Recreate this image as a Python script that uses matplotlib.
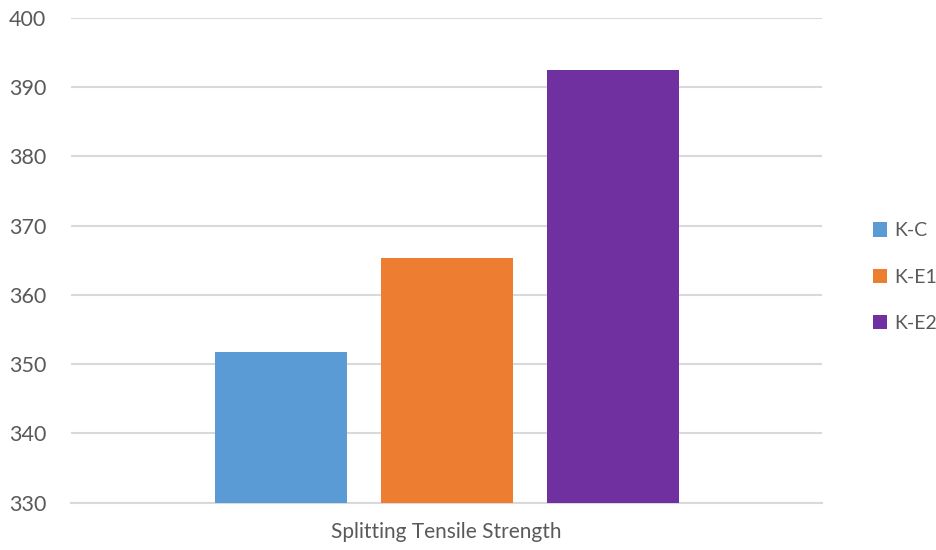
import matplotlib.pyplot as plt
from matplotlib.patches import Patch

category = "Splitting Tensile Strength"
series = ["K-C", "K-E1", "K-E2"]
values = [351.7, 365.4, 392.5]
colors = ["#5B9BD5", "#ED7D31", "#7030A0"]
yticks = [330, 340, 350, 360, 370, 380, 390, 400]

plt.rcParams['font.family'] = ['Lato', 'DejaVu Sans']

W, H = 936, 550
fig = plt.figure(figsize=(W / 100, H / 100), dpi=100)
ax = fig.add_axes([71 / W, 1 - 502.7 / H, (822 - 71) / W, (502.7 - 18) / H])

bar_w = 132
step = 166
for i, (name, v, c) in enumerate(zip(series, values, colors)):
    ax.bar((i - 1) * step, v - yticks[0], bottom=yticks[0], width=bar_w,
           color=c, zorder=3, label=name)

ax.set_xlim(-375.5, 375.5)
ax.set_ylim(yticks[0], yticks[-1])
ax.set_yticks(yticks)
ax.set_yticklabels([str(t) for t in yticks])
ax.yaxis.grid(True, color="#D9D9D9", linewidth=1.5, zorder=0)
ax.set_axisbelow(True)
ax.tick_params(axis="y", length=0, pad=18, labelsize=15.5, labelcolor="#595959")
ax.set_xticks([0])
ax.set_xticklabels([category])
ax.tick_params(axis="x", length=0, pad=14, labelsize=15, labelcolor="#595959")
for s in ["top", "right", "left"]:
    ax.spines[s].set_visible(False)
ax.spines["bottom"].set_color("#D9D9D9")
ax.spines["bottom"].set_linewidth(1.5)

handles = [Patch(facecolor=c, label=n) for n, c in zip(series, colors)]
fig.legend(handles=handles, loc="center left", bbox_to_anchor=(863 / W, 1 - 277 / H),
           frameon=False, fontsize=14, labelcolor="#595959",
           handlelength=0.75, handleheight=0.75, handletextpad=0.35,
           labelspacing=1.5, borderpad=0)

fig.savefig("out.png", dpi=100, facecolor="white")
